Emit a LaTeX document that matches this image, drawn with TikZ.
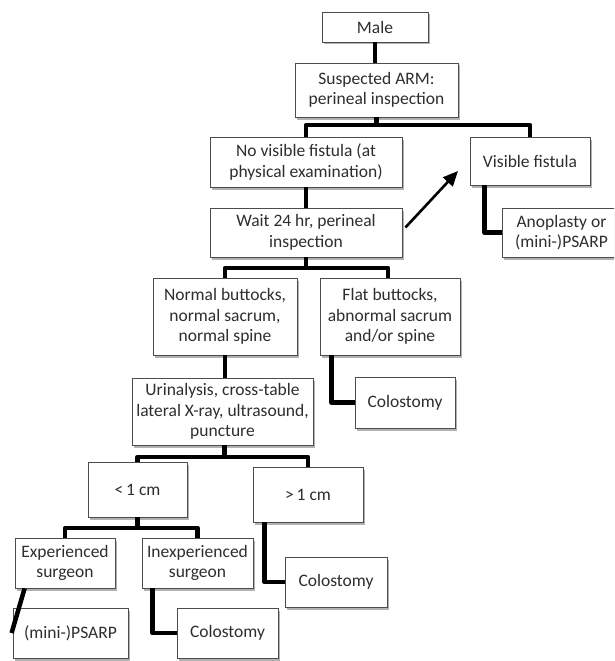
\documentclass[tikz,border=0pt]{standalone}
\usepackage{fontspec}
\setmainfont{Carlito}
\usetikzlibrary{shadows,arrows.meta}
\tikzset{
  box/.style={draw=black!70, line width=0.8pt, fill=white, text=black!82,
    align=center, inner sep=0pt, font=\fontsize{17.5}{20.5}\selectfont,
    drop shadow={shadow xshift=2pt, shadow yshift=-2.5pt, fill=black, opacity=0.3}},
  conn/.style={line width=4.5pt, black, line join=round},
  arr/.style={line width=2.6pt, black, -{Triangle[length=15pt,width=13pt]}}
}
\begin{document}
\begin{tikzpicture}[x=1pt,y=-1pt]
\useasboundingbox (0,0) rectangle (614,661);
\clip (0,0) rectangle (614,661);
\fill[white] (0,0) rectangle (614,661);

\node[box, minimum width=106pt, minimum height=30pt] (male) at (375,27) {Male};
\node[box, minimum width=163pt, minimum height=54pt] (susp) at (376.5,90) {Suspected ARM:\\perineal inspection};
\node[box, minimum width=192pt, minimum height=50pt] (novis) at (306,162) {No visible fistula (at\\physical examination)};
\node[box, minimum width=120pt, minimum height=48pt] (vis) at (530,161) {Visible fistula};
\node[box, minimum width=119pt, minimum height=49pt] (anop) at (561.5,232.5) {Anoplasty or\\(mini-)PSARP};
\node[box, minimum width=192pt, minimum height=49pt] (wait) at (306,232.5) {Wait 24 hr, perineal\\inspection};
\node[box, minimum width=144pt, minimum height=77pt] (normal) at (225,316.5) {Normal buttocks,\\normal sacrum,\\normal spine};
\node[box, minimum width=140pt, minimum height=77pt] (flat) at (390,316.5) {Flat buttocks,\\abnormal sacrum\\and/or spine};
\node[box, minimum width=100pt, minimum height=51pt] (col1) at (405,402.5) {Colostomy};
\node[box, minimum width=181pt, minimum height=67pt] (urin) at (222.5,411.5) {Urinalysis, cross-table\\lateral X-ray, ultrasound,\\puncture};
\node[box, minimum width=99pt, minimum height=55pt] (lt) at (137.5,489.5) {{<}\,1 cm};
\node[box, minimum width=110pt, minimum height=55pt] (gt) at (308,494.5) {{>}\,1 cm};
\node[box, minimum width=100pt, minimum height=50pt] (exp) at (65,563) {Experienced\\surgeon};
\node[box, minimum width=111pt, minimum height=50pt] (inexp) at (197.5,563) {Inexperienced\\surgeon};
\node[box, minimum width=102pt, minimum height=50pt] (col2) at (336,582) {Colostomy};
\node[box, minimum width=115pt, minimum height=50pt] (psarp) at (70.5,633) {(mini-)PSARP};
\node[box, minimum width=101pt, minimum height=50pt] (col3) at (227.5,633) {Colostomy};

% junctions
\coordinate (j1) at (376,125);
\coordinate (j2) at (306,268);
\coordinate (j3) at (223,457);
\coordinate (j4) at (137.5,528);
\coordinate (atip) at (458,171);

\draw[conn] (male.south) -- (male.south |- susp.north);
\draw[conn] (susp.south) -- (susp.south |- j1);
\draw[conn] (novis.north) -- (novis.north |- j1) -- (vis.north |- j1) -- (vis.north);
\draw[conn] (novis.south) -- (novis.south |- wait.north);
\draw[conn] ([xshift=15pt]vis.south west) |- (anop.west);
\draw[arr] ([shift={(3,-5)}]wait.east) -- (atip);
\draw[conn] (wait.south) -- (wait.south |- j2);
\draw[conn] (normal.north) -- (normal.north |- j2) -- ([xshift=-2pt]flat.north |- j2) -- ([xshift=-2pt]flat.north);
\draw[conn] ([xshift=12pt]flat.south west) |- (col1.west);
\draw[conn] (normal.south) -- (normal.south |- urin.north);
\draw[conn] ([xshift=2pt]urin.south) -- ([xshift=2pt]urin.south |- j3);
\draw[conn] (lt.north) -- (lt.north |- j3) -- (gt.north |- j3) -- (gt.north);
\draw[conn] ([xshift=12pt]gt.south west) |- (col2.west);
\draw[conn] (lt.south) -- (lt.south |- j4);
\draw[conn] (exp.north) -- (exp.north |- j4) -- (inexp.north |- j4) -- (inexp.north);
\draw[conn] ([xshift=10pt]exp.south west) -- ([xshift=-1pt]psarp.west);
\draw[conn] ([xshift=11pt]inexp.south west) |- (col3.west);
\end{tikzpicture}
\end{document}
